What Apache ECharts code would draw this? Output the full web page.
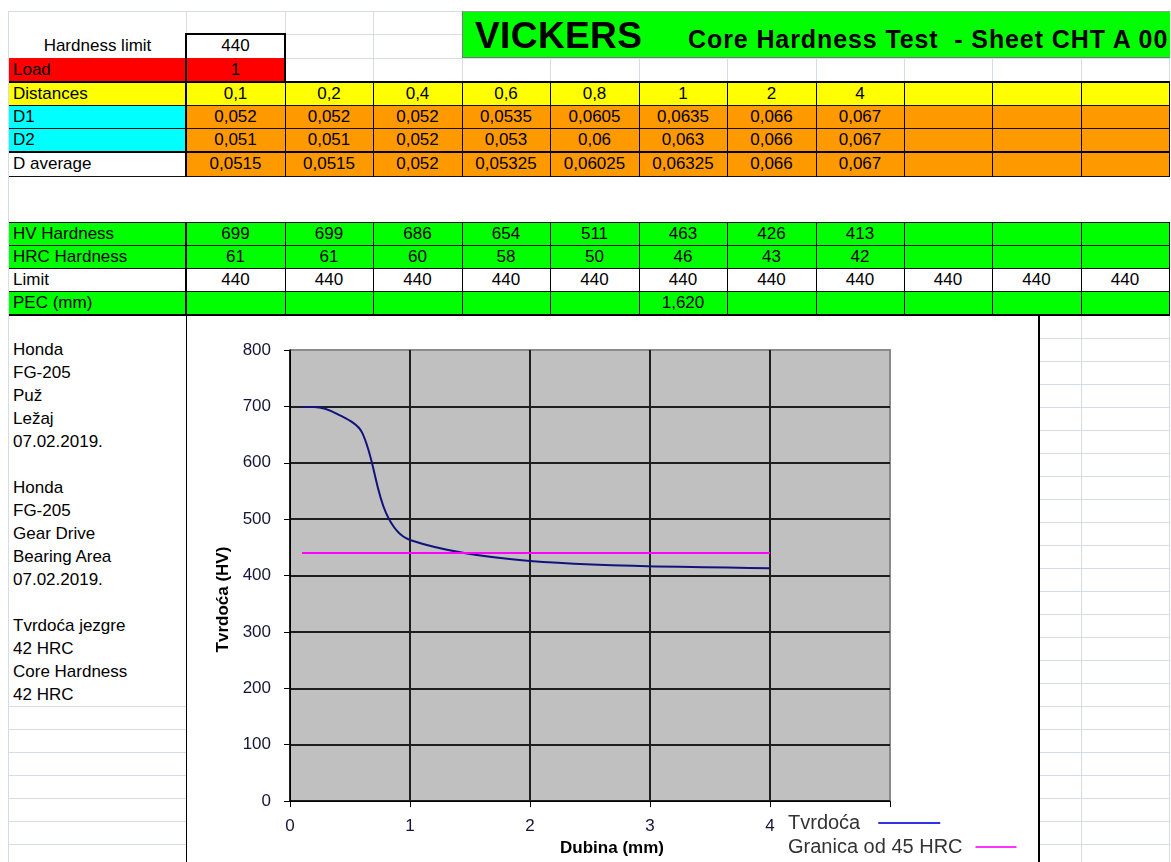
<!DOCTYPE html>
<html>
<head>
<meta charset="utf-8">
<title>Vickers - Core Hardness Test</title>
<script src="https://cdn.jsdelivr.net/npm/echarts@6/dist/echarts.min.js"></script>
<style>
  html, body { margin: 0; padding: 0; background: #fff; }
  body { width: 1171px; height: 862px; position: relative; overflow: hidden; font-family: "Liberation Sans", Arial, sans-serif; }
  .c { position: absolute; box-sizing: border-box; font-size: 17px; color: #000; white-space: nowrap; overflow: hidden; display: flex; align-items: center; }
  .ln { position: absolute; }
  #chart { position: absolute; left: 186px; top: 316px; width: 854px; height: 546px; background: #fff; box-sizing: border-box; border-left: 1px solid #000; border-right: 2px solid #000; }
</style>
</head>
<body>
<div id="sheet"></div>
<div id="chart"></div>
<script>
// measured values
var distances = [0.1, 0.2, 0.4, 0.6, 0.8, 1, 2, 4];
var d1 = [0.052, 0.052, 0.052, 0.0535, 0.0605, 0.0635, 0.066, 0.067];
var d2 = [0.051, 0.051, 0.052, 0.053, 0.06, 0.063, 0.066, 0.067];
var dAverage = [0.0515, 0.0515, 0.052, 0.05325, 0.06025, 0.06325, 0.066, 0.067];
var hvHardness = [699, 699, 686, 654, 511, 463, 426, 413];
var hrcHardness = [61, 61, 60, 58, 50, 46, 43, 42];
var limitRow = [440, 440, 440, 440, 440, 440, 440, 440, 440, 440, 440];
var pecValue = 1.62;
var pecColumn = 5;
var hardnessLimit = 440;
var load = 1;
var notes = ['Honda', 'FG-205', 'Puž', 'Ležaj', '07.02.2019.', '',
             'Honda', 'FG-205', 'Gear Drive', 'Bearing Area', '07.02.2019.', '',
             'Tvrdoća jezgre', '42 HRC', 'Core Hardness', '42 HRC'];
var seriesNames = ['Tvrdoća', 'Granica od 45 HRC'];

// sheet layout
var colX = [8, 186, 285, 373, 462, 550, 639, 727, 816, 904, 992, 1081, 1169];
var rowY = [11, 34, 58, 82, 105, 128, 152, 176, 222, 245, 268, 291, 315];
for (var yy = 338; yy < 870; yy += 23) rowY.push(yy);

var sheet = document.getElementById('sheet');

function fmt(v) {
    return String(v).replace('.', ',');
}

function line(x, y, w, h, color) {
    var d = document.createElement('div');
    d.className = 'ln';
    d.style.cssText = 'left:' + x + 'px;top:' + y + 'px;width:' + w + 'px;height:' + h + 'px;background:' + color;
    sheet.appendChild(d);
}

function cell(ci, ri, bg, text, center) {
    var x = ci === 0 ? colX[0] + 1 : colX[ci];
    var w = colX[ci + 1] - x;
    var y = rowY[ri];
    var h = rowY[ri + 1] - y;
    var d = document.createElement('div');
    d.className = 'c';
    d.style.cssText = 'left:' + x + 'px;top:' + y + 'px;width:' + w + 'px;height:' + h + 'px;background:' + bg +
        ';justify-content:' + (center ? 'center' : 'flex-start') + ';padding-left:' + (center ? 0 : 4) + 'px';
    d.textContent = text === undefined ? '' : text;
    sheet.appendChild(d);
}

// light gridlines
var grid = '#d5dbe7';
colX.forEach(function (x) { line(x, 11, 1, 851, grid); });
rowY.forEach(function (y) { line(8, y, 1162, 1, grid); });
line(9, 177, 1161, 45, '#fff');

// header
cell(0, 1, '#fff', 'Hardness limit', true);
cell(1, 1, '#fff', hardnessLimit, true);
cell(0, 2, '#ff0000', 'Load', false);
cell(1, 2, '#ff0000', load, true);

var title = document.createElement('div');
title.style.cssText = 'position:absolute;left:462px;top:11px;width:708px;height:47px;background:#00ff00;overflow:hidden;' +
    'box-sizing:border-box;border-left:1px solid #777;border-top:1px solid #999;border-bottom:1px solid #777';
title.innerHTML = '<span style="position:absolute;left:12px;top:5px;font-size:37px;font-weight:bold;line-height:1;letter-spacing:0.4px">VICKERS</span>' +
    '<span style="position:absolute;left:225px;top:15px;font-size:25px;font-weight:bold;line-height:1;letter-spacing:0.9px;white-space:pre">Core Hardness Test  - Sheet CHT A 00</span>';
sheet.appendChild(title);

// data rows
var labelsTop = ['Distances', 'D1', 'D2', 'D average'];
var bgTop = ['#ffff00', '#00ffff', '#00ffff', '#fff'];
var valuesTop = [distances, d1, d2, dAverage];
for (var r = 0; r < 4; r++) {
    cell(0, 3 + r, bgTop[r], labelsTop[r], false);
    for (var c = 1; c < 12; c++) {
        var v = valuesTop[r][c - 1];
        cell(c, 3 + r, r === 0 ? '#ffff00' : '#ff9900', v === undefined ? '' : fmt(v), true);
    }
}

var labelsBottom = ['HV Hardness', 'HRC Hardness', 'Limit', 'PEC (mm)'];
var bgBottom = ['#00ff00', '#00ff00', '#fff', '#00ff00'];
var valuesBottom = [hvHardness, hrcHardness, limitRow, []];
for (var r2 = 0; r2 < 4; r2++) {
    cell(0, 8 + r2, bgBottom[r2], labelsBottom[r2], false);
    for (var c2 = 1; c2 < 12; c2++) {
        var v2 = valuesBottom[r2][c2 - 1];
        if (r2 === 3 && c2 - 1 === pecColumn) v2 = pecValue.toFixed(3).replace('.', ',');
        cell(c2, 8 + r2, bgBottom[r2], v2 === undefined ? '' : v2, true);
    }
}

// black borders
[82, 152].forEach(function (y) { line(9, y - 1, 1161, 2, '#000'); });
[105, 128, 176, 222, 245, 268, 291].forEach(function (y) { line(9, y, 1161, 1, '#111'); });
line(9, 314, 1161, 2, '#000');
colX.slice(1).forEach(function (x, i) {
    var w = i === 0 ? 2 : 1;
    line(x - (w - 1), 82, w, 95, '#000');
    line(x - (w - 1), 222, w, 93, '#000');
});
// box round hardness limit / load
line(185, 33, 101, 2, '#000');
line(185, 33, 2, 50, '#000');
line(284, 33, 2, 50, '#000');

// notes in column A
notes.forEach(function (t, i) { cell(0, 13 + i, '#fff', t, false); });

// chart
var chart = echarts.init(document.getElementById('chart'));
var axisText = '#15153a';
var option = {
    animation: false,
    textStyle: { fontFamily: '"Liberation Sans", Arial, sans-serif' },
    grid: {
        left: 103, top: 34, width: 600, height: 454,
        show: true, backgroundColor: '#c0c0c0', borderColor: '#8a8a8a', borderWidth: 2
    },
    legend: [
        {
            data: [{ name: seriesNames[0], icon: 'rect', itemStyle: { color: '#3030e6' } }],
            left: 601, top: 496, padding: 0, orient: 'vertical', align: 'right',
            itemWidth: 62, itemHeight: 2,
            textStyle: { fontSize: 20, color: '#333', lineHeight: 22, padding: [0, 13, 0, 0] }
        },
        {
            data: [{ name: seriesNames[1], icon: 'rect', itemStyle: { color: '#ff33ff' } }],
            left: 601, top: 520, padding: 0, orient: 'vertical', align: 'right',
            itemWidth: 41, itemHeight: 2,
            textStyle: { fontSize: 20, color: '#333', lineHeight: 22, padding: [0, 8, 0, 0] }
        }
    ],
    xAxis: {
        type: 'value', min: 0, max: 5, interval: 1,
        name: 'Dubina (mm)', nameLocation: 'middle', nameGap: 38,
        nameTextStyle: { fontSize: 17, fontWeight: 'bold', color: '#000', padding: [0, 0, 0, 44] },
        axisLine: { show: true, onZero: false, lineStyle: { color: '#000', width: 1 } },
        axisTick: { show: true, length: 6, lineStyle: { color: '#000' } },
        axisLabel: {
            fontSize: 17, color: axisText, margin: 17,
            formatter: function (v) { return v === 5 ? '' : String(v); }
        },
        splitLine: { show: true, showMaxLine: false, lineStyle: { color: '#1e1e1e', width: 2 } }
    },
    yAxis: {
        type: 'value', min: 0, max: 800, interval: 100,
        name: 'Tvrdoća (HV)', nameLocation: 'middle', nameGap: 58, nameRotate: 90,
        nameTextStyle: { fontSize: 17, fontWeight: 'bold', color: '#000', padding: [0, 48, 0, 0] },
        axisLine: { show: true, lineStyle: { color: '#000', width: 1 } },
        axisTick: { show: true, length: 6, lineStyle: { color: '#000' } },
        axisLabel: { fontSize: 17, color: axisText, margin: 19 },
        splitLine: { show: true, showMaxLine: false, lineStyle: { color: '#1e1e1e', width: 2 } }
    },
    series: [
        {
            name: seriesNames[0], type: 'line', smooth: 0.33, symbol: 'none',
            data: distances.map(function (d, i) { return [d, hvHardness[i]]; }),
            lineStyle: { color: '#12127e', width: 2 }, itemStyle: { color: '#12127e' }
        },
        {
            name: seriesNames[1], type: 'line', symbol: 'none',
            data: distances.map(function (d, i) { return [d, limitRow[i]]; }),
            lineStyle: { color: '#ff00ff', width: 2 }, itemStyle: { color: '#ff00ff' }
        }
    ]
};
chart.setOption(option);
</script>
</body>
</html>
